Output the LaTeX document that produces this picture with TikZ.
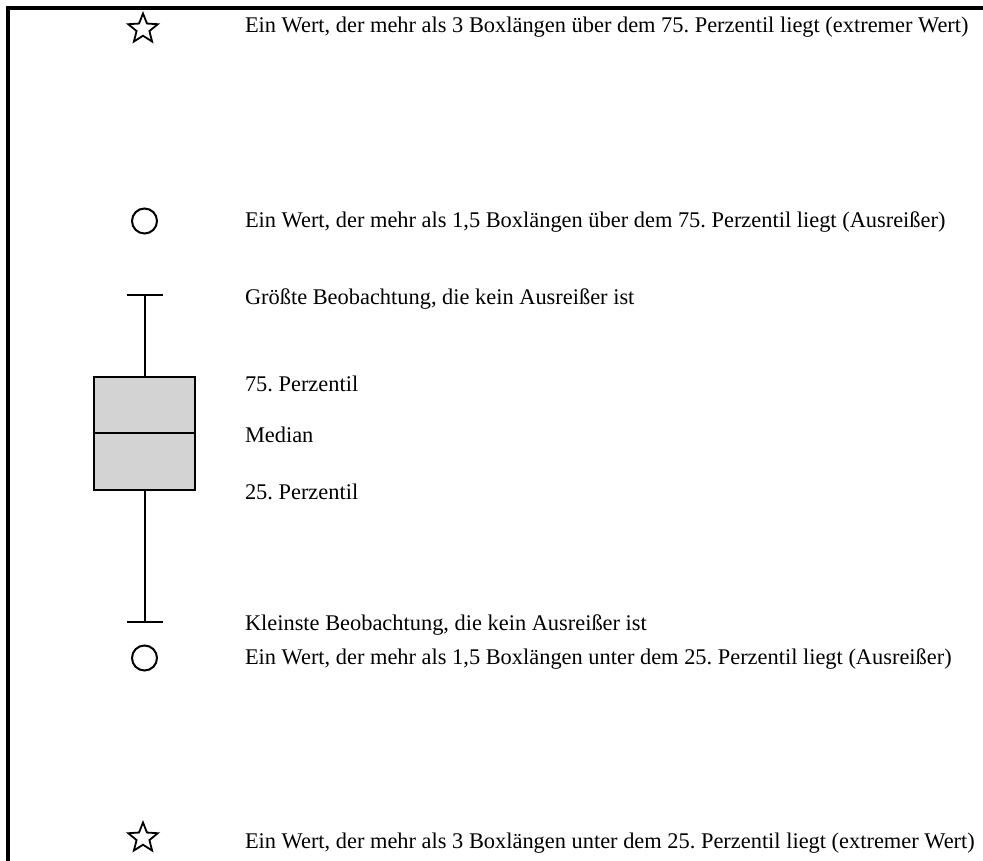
\documentclass[tikz,border=0pt]{standalone}
\usepackage{fontspec}
\setmainfont{Liberation Serif}
\usetikzlibrary{shapes.geometric}
\definecolor{BoxGray}{HTML}{D3D3D3}
\frenchspacing

\begin{document}
\begin{tikzpicture}[x=1pt,y=-1pt,line width=2pt,
    every node/.style={font=\fontsize{22.4}{26}\selectfont}]

    \tikzstyle{label}=[anchor=base west, inner sep=0pt]
    \tikzstyle{outlier}=[draw, circle, inner sep=0pt, minimum size=25pt]
    \tikzstyle{extreme}=[draw, star, star points=5, star point ratio=2.3,
      inner sep=0pt, minimum size=31pt, line width=1.8pt]

    \useasboundingbox (0,0) rectangle (983,861);

    % --- Frame ---
    \draw[line width=3.5pt] (8,861) |- (983,8);

    % --- Box and whiskers ---
    \node[draw, fill=BoxGray, minimum width=101pt, minimum height=113pt,
      inner sep=0pt] (box) at (144.5,433.5) {};
    \draw (box.west |- 0,433) -- (box.east |- 0,433);
    \coordinate (hi) at (144.5,295);
    \coordinate (lo) at (144.5,622);
    \draw (box.north) -- (hi);
    \draw (box.south) -- (lo);
    \draw ([xshift=-18pt]hi) -- ([xshift=18pt]hi);
    \draw ([xshift=-18pt]lo) -- ([xshift=18pt]lo);

    % --- Outliers and extreme values ---
    \node[extreme] (xhi) at (143,29) {};
    \node[outlier] (ohi) at (144.5,221) {};
    \node[outlier] (olo) at (144.5,658) {};
    \node[extreme] (xlo) at (143,838) {};

    % --- Labels ---
    \node[label] (txhi) at (244,33) {Ein Wert, der mehr als 3 Boxlängen über dem 75. Perzentil liegt (extremer Wert)};
    \node[label] (tohi) at (244,228) {Ein Wert, der mehr als 1,5 Boxlängen über dem 75. Perzentil liegt (Ausreißer)};
    \node[label] (thi) at (244,305) {Größte Beobachtung, die kein Ausreißer ist};
    \node[label] (tq3) at (244,391) {75. Perzentil};
    \node[label] (tmed) at (244,442) {Median};
    \node[label] (tq1) at (244,499) {25. Perzentil};
    \node[label] (tlo) at (244,630) {Kleinste Beobachtung, die kein Ausreißer ist};
    \node[label] (tolo) at (244,664) {Ein Wert, der mehr als 1,5 Boxlängen unter dem 25. Perzentil liegt (Ausreißer)};
    \node[label] (txlo) at (244,848) {Ein Wert, der mehr als 3 Boxlängen unter dem 25. Perzentil liegt (extremer Wert)};

\end{tikzpicture}
\end{document}
